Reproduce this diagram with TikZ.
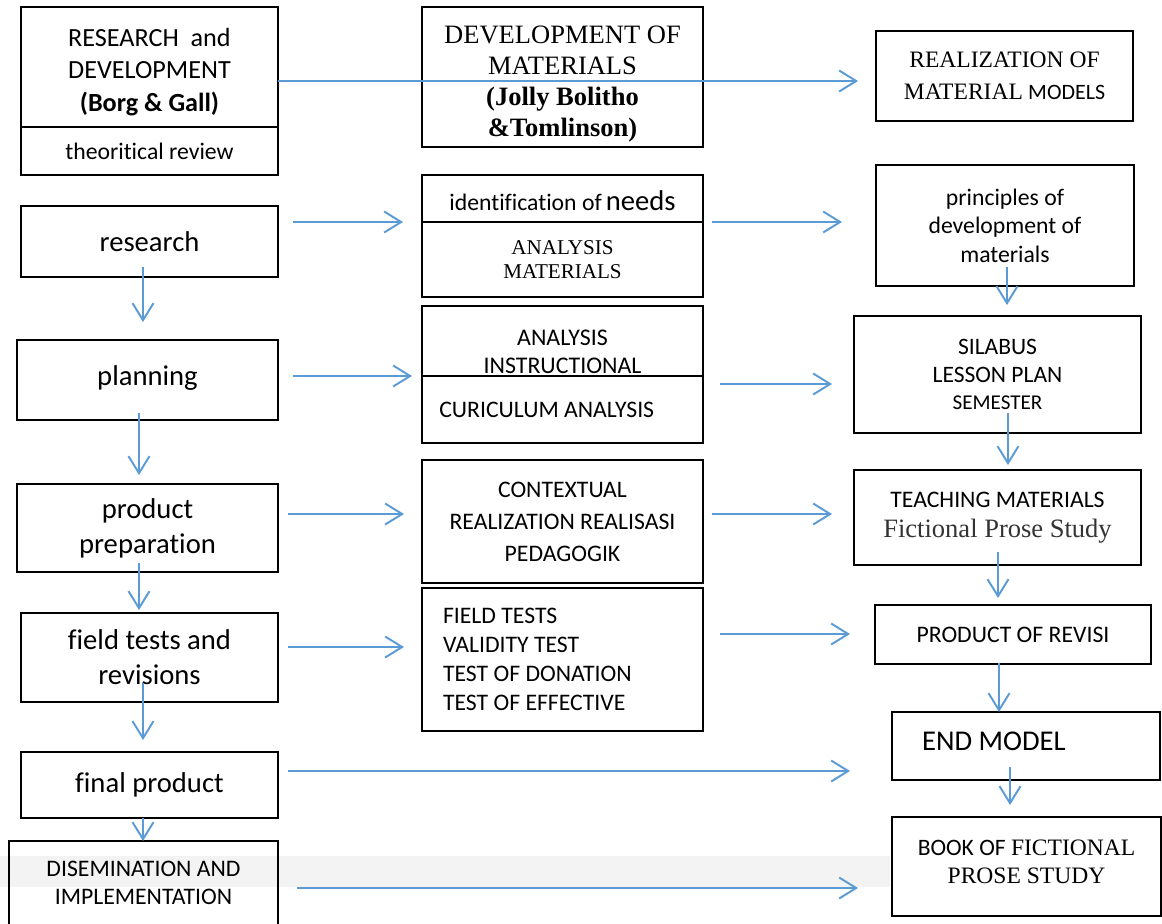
\documentclass[tikz,border=0pt]{standalone}
\usepackage{fontspec}
\setmainfont{Carlito}[Ligatures=NoCommon]
\newfontfamily\tnr{Liberation Serif}
\usetikzlibrary{arrows.meta,positioning}
\definecolor{flowblue}{HTML}{5B9BD5}
\definecolor{bandgray}{HTML}{F3F3F3}
\newcommand\bigsf{\fontsize{16.3}{20}\selectfont}
\newcommand\midsf{\fontsize{13.5}{16}\selectfont}
\tikzset{box/.style={draw, line width=1.3pt, inner sep=0pt, outer sep=0pt,
    anchor=north west, align=center}}
\tikzset{sz/.style 2 args={minimum width=#1*0.02cm, minimum height=#2*0.02cm}}
\tikzset{flow/.style={draw=flowblue, line width=1.1pt,
    -{Straight Barb[length=3.4mm, width=4.2mm]}}}

\begin{document}
\begin{tikzpicture}[x=0.02cm, y=-0.02cm]
  \clip (0,0) rectangle (1162,923);
  \fill[bandgray] (0,856) rectangle (890,887);

  % Borg & Gall steps
  \node[box, sz={257}{120}, font=\fontsize{14.9}{18.5}\selectfont] (rd) at (21,7)
  {\rule{0pt}{16pt}RESEARCH~ and\\DEVELOPMENT\\\textbf{(Borg \& Gall)}};
  \node[box, sz={257}{48}, font=\midsf, below=0pt of rd] (rdrev) {theoritical review};
  \node[box, sz={257}{71}, font=\bigsf] (research) at (21,206) {research};
  \node[box, sz={261}{80}, font=\bigsf] (planning) at (17,340) {planning\rule[-5pt]{0pt}{0pt}};
  \node[box, sz={261}{88}, font=\bigsf] (prep) at (17,484) {product\\preparation};
  \node[box, sz={257}{89}, font=\bigsf] (field) at (21,613) {field tests and\\revisions};
  \node[box, sz={257}{66}, font=\bigsf] (final) at (21,752) {final product};
  \node[box, sz={269}{84}, font=\midsf] (dissem) at (9,841) {DISEMINATION AND\\IMPLEMENTATION};

  % development of materials
  \node[box, sz={281}{140}, font=\tnr\fontsize{15.1}{17.6}\selectfont] (devmat) at (422,7)
  {\rule{0pt}{18pt}DEVELOPMENT OF\\MATERIALS\\\textbf{(Jolly Bolitho}\\\textbf{\&Tomlinson)}};
  \node[box, sz={281}{47}] (needs) at (422,175)
  {\rule{0pt}{14pt}{\midsf identification of} {\bigsf needs}};
  \node[box, sz={281}{75}, font=\tnr\fontsize{12}{13.7}\selectfont, below=0pt of needs] (anmat)
  {ANALYSIS\\MATERIALS};
  \node[box, sz={281}{70}, font=\fontsize{13.6}{16}\selectfont] (instr) at (422,306)
  {\rule{0pt}{21pt}ANALYSIS\\INSTRUCTIONAL};
  \node[box, sz={281}{67}, font=\midsf, below=0pt of instr] (curric) {CURICULUM ANALYSIS\hspace{18pt}};
  \node[box, sz={281}{123}, font=\fontsize{13.5}{18.2}\selectfont] (context) at (422,460)
  {CONTEXTUAL\\REALIZATION REALISASI\\PEDAGOGIK};
  \node[box, sz={281}{143}, font=\fontsize{13.5}{16.5}\selectfont, align=flush left,
    inner xsep=0.42cm, text width=4.78cm] (ftests) at (422,588)
  {FIELD TESTS\\VALIDITY TEST\\TEST OF DONATION\\TEST OF EFFECTIVE};

  % realization of material models
  \node[box, sz={257}{90}, font=\fontsize{13.4}{18.2}\selectfont] (realiz) at (876,31)
  {{\tnr REALIZATION OF}\\{\tnr MATERIAL} {\fontsize{12.5}{15}\selectfont MODELS}};
  \node[box, sz={258}{121}, font=\fontsize{13.5}{16.2}\selectfont] (princ) at (876,165)
  {principles of\\development of\\materials};
  \node[box, sz={287}{117}, font=\fontsize{13.4}{15.5}\selectfont] (silabus) at (854,316)
  {SILABUS\\LESSON PLAN\\{\fontsize{12}{14}\selectfont SEMESTER}};
  \node[box, sz={287}{95}, font=\fontsize{13.5}{17}\selectfont] (teach) at (854,470)
  {TEACHING MATERIALS\\{\tnr\fontsize{15.1}{17}\selectfont\color{black!80}Fictional Prose Study}};
  \node[box, sz={276}{59}, font=\midsf] (revisi) at (875,605) {PRODUCT OF REVISI};
  \node[box, sz={268}{68}, font=\bigsf, align=flush left, inner xsep=0.6cm, text width=4.16cm]
  (endm) at (892,712) {END MODEL\rule[-5pt]{0pt}{0pt}};
  \node[box, sz={269}{99}, font=\fontsize{13.4}{15.9}\selectfont] (book) at (892,817)
  {BOOK OF {\tnr FICTIONAL}\\{\tnr PROSE STUDY}\rule[-6pt]{0pt}{0pt}};

  % horizontal arrows
  \draw[flow, shorten >=3.6mm] ([yshift=-1mm]rd.east |- realiz.west) -- ([yshift=-1mm]realiz.west);
  \draw[flow, shorten <=3mm, shorten >=3.8mm] (research.east |- needs.south) -- (needs.south west);
  \draw[flow, shorten <=1.8mm, shorten >=6.8mm] (needs.south east) -- (needs.south -| princ.west);
  \draw[flow, shorten <=3mm, shorten >=2mm] (planning.east |- instr.south) -- (instr.south west);
  \draw[flow, shorten <=3.4mm, shorten >=4.4mm] ([yshift=-1.9mm]curric.east |- silabus.west)
  -- ([yshift=-1.9mm]silabus.west);
  \draw[flow, shorten <=2mm, shorten >=3.6mm] ([yshift=1.5mm]prep.east |- context.west)
  -- ([yshift=1.5mm]context.west);
  \draw[flow, shorten <=1.8mm, shorten >=4.4mm] ([yshift=0.7mm]context.east |- teach.west)
  -- ([yshift=0.7mm]teach.west);
  \draw[flow, shorten <=2mm, shorten >=3.6mm] ([yshift=2.1mm]field.east)
  -- ([yshift=2.1mm]field.east -| ftests.west);
  \draw[flow, shorten <=3.4mm, shorten >=5mm] ([yshift=0.1mm]ftests.east |- revisi.west)
  -- ([yshift=0.1mm]revisi.west);
  \draw[flow, shorten <=2mm, shorten >=8.4mm] ([yshift=2.8mm]final.east)
  -- ([yshift=2.8mm]final.east -| endm.west);
  \draw[flow, shorten <=3.8mm, shorten >=6.8mm] ([yshift=-1mm]dissem.east)
  -- ([yshift=-1mm]dissem.east -| book.west);

  % vertical arrows
  \draw[flow, shorten <=-2mm, shorten >=3.6mm] ([xshift=-1.3mm]research.south)
  -- ([xshift=-1.3mm]research.south |- planning.north);
  \draw[flow, shorten <=-1.4mm, shorten >=1.8mm] ([xshift=-1.7mm]planning.south)
  -- ([xshift=-1.7mm]planning.south |- prep.north);
  \draw[flow, shorten <=-1.8mm, shorten >=0.6mm] ([xshift=-1.7mm]prep.south)
  -- ([xshift=-1.7mm]prep.south |- field.north);
  \draw[flow, shorten <=-3.8mm, shorten >=2.4mm] ([xshift=-1.3mm]field.south)
  -- ([xshift=-1.3mm]field.south |- final.north);
  \draw[flow] ([xshift=-1.3mm]final.south) -- ([xshift=-1.3mm]final.south |- dissem.north);
  \draw[flow, shorten <=-3.8mm, shorten >=2.2mm] ([xshift=0.4mm]princ.south)
  -- ([xshift=0.4mm]princ.south |- silabus.north);
  \draw[flow, shorten <=-4mm, shorten >=1mm] ([xshift=2.1mm]silabus.south)
  -- ([xshift=2.1mm]silabus.south |- teach.north);
  \draw[flow, shorten <=-2.6mm, shorten >=1.4mm] ([xshift=0.1mm]teach.south)
  -- ([xshift=0.1mm]teach.south |- revisi.north);
  \draw[flow, shorten <=-0.2mm] ([xshift=-2.8mm]revisi.south)
  -- ([xshift=-2.8mm]revisi.south |- endm.north);
  \draw[flow, shorten <=-2.6mm, shorten >=2.4mm] ([xshift=-3.2mm]endm.south)
  -- ([xshift=-3.2mm]endm.south |- book.north);
\end{tikzpicture}
\end{document}
